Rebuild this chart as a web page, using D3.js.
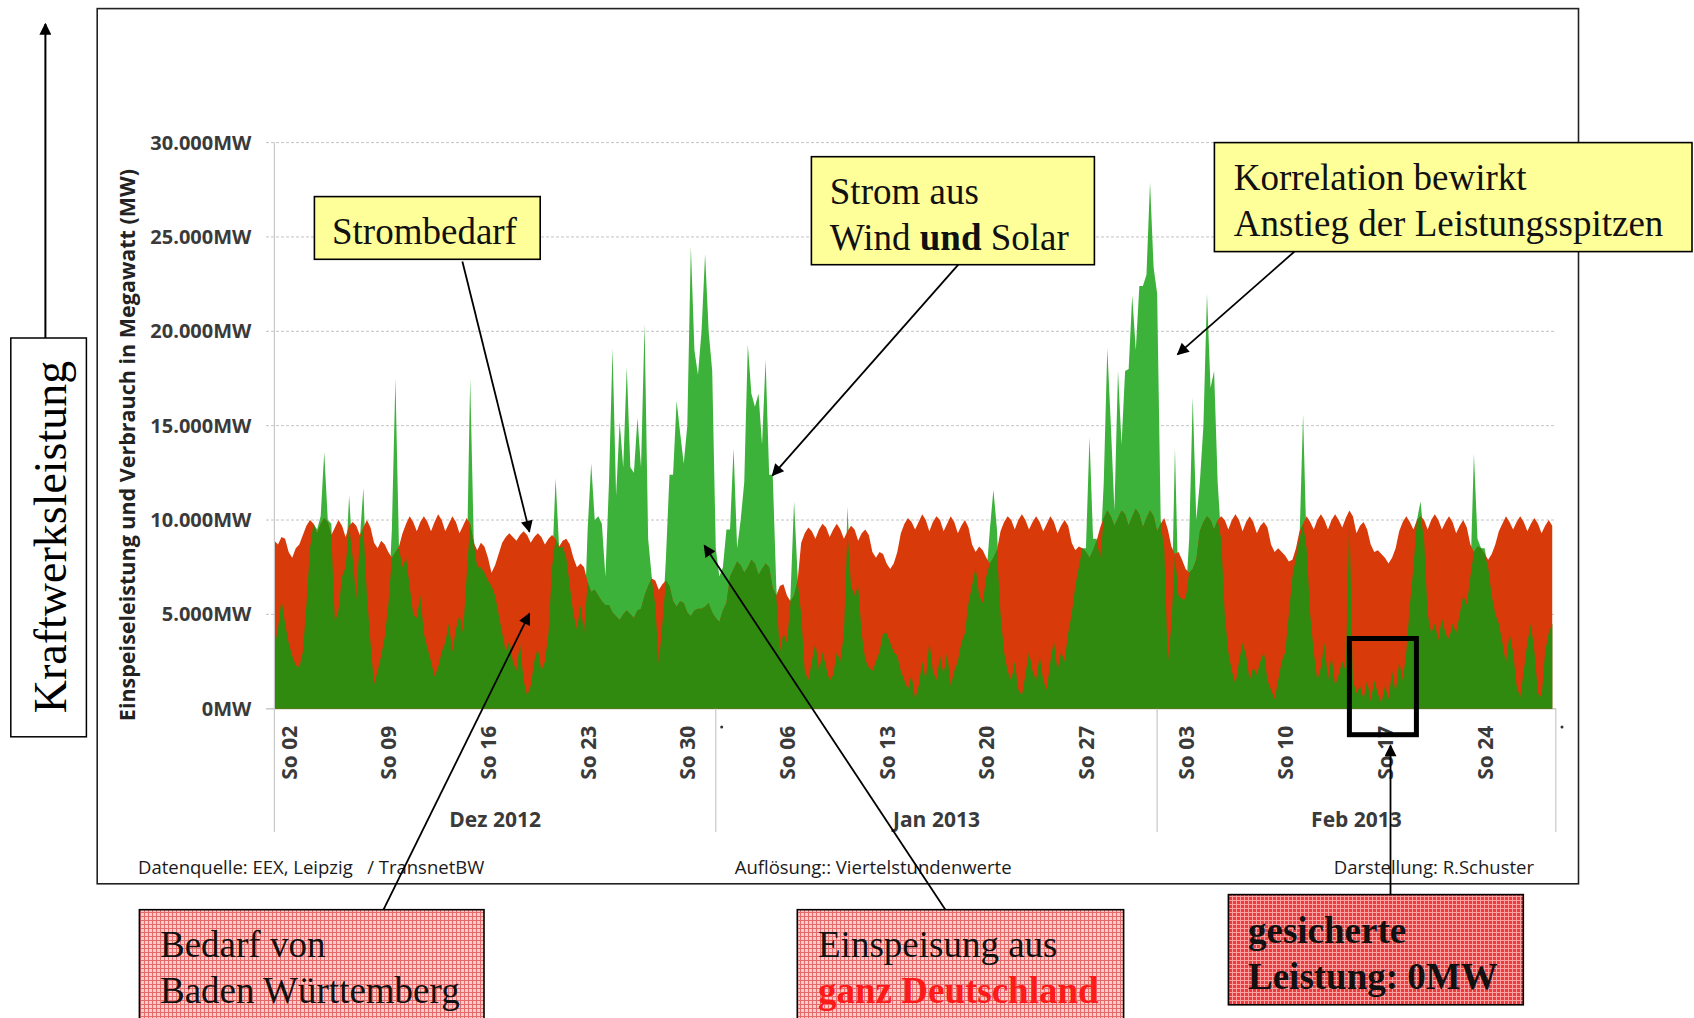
<!DOCTYPE html>
<html>
<head>
<meta charset="utf-8">
<script src="https://cdn.jsdelivr.net/npm/d3@7"></script>
<style>
  body { margin: 0; background: #fff; }
  text { font-family: "Open Sans", "DejaVu Sans", sans-serif; }
  .serif { font-family: "Liberation Serif", "DejaVu Serif", serif; }
</style>
</head>
<body>
<svg id="chart" width="1694" height="1018"></svg>
<script>
// Demand Baden-Wuerttemberg (MW), 6-hourly samples (00, 06, 12, 18 h), one row per day
const demandDec = [
  8900, 8700, 9100, 9000,   8300, 8000, 8500, 8700,   9200, 9700, 10000, 9800,
  9300, 9800, 10100, 9900,  9200, 9600, 10000, 9700,  9100, 9700, 9900, 9700,
  9200, 9600, 10000, 9600,  8800, 8500, 8900, 8700,   8300, 8000, 8300, 8600,
  9300, 9800, 10200, 9900,  9400, 9900, 10200, 9900,  9400, 9900, 10300, 10000,
  9400, 9800, 10200, 9900,  9300, 9700, 10100, 9800,  8800, 8400, 8800, 8600,
  8000, 7200, 7600, 8200,   8800, 9100, 9300, 9100,   8900, 9200, 9400, 9200,
  8800, 9100, 9300, 9100,   8700, 9000, 9200, 9000,   8600, 8900, 9000, 8700,
  8000, 7500, 7700, 7500,   6700, 6200, 6300, 6000,   5700, 5500, 5500, 5100,
  4900, 4700, 5000, 5200,   5000, 4800, 5200, 5300,   6000, 6500, 6900, 6800,
  6300, 6600, 6800, 6500,   5700, 5400, 5700, 5600,   5100, 4900, 5200, 5300,
  5300, 5400, 5600, 5100
];
const demandJan = [
  4800, 4600, 5200, 5600,   7000, 7400, 7800, 7600,   7200, 7500, 7900, 7700,
  7100, 7400, 7700, 7500,   6400, 6000, 6500, 6600,   6000, 5700, 6000, 6800,
  8800, 9300, 9600, 9400,   9000, 9500, 9800, 9600,   9100, 9500, 9800, 9500,
  9000, 9400, 9700, 9500,   8900, 9300, 9500, 9200,   8300, 8000, 8300, 8200,
  7700, 7400, 7700, 8300,   9300, 9800, 10100, 9900,  9500, 9900, 10300, 10000,
  9400, 9900, 10200, 10000, 9400, 9800, 10200, 9900,  9300, 9700, 10000, 9600,
  8700, 8300, 8600, 8400,   8000, 7700, 8000, 8400,   9400, 9900, 10200, 10000,
  9500, 10000, 10300, 10000, 9500, 9900, 10200, 9900, 9400, 9800, 10200, 9900,
  9300, 9700, 10000, 9700,  8800, 8400, 8600, 8500,   8300, 8000, 8400, 8900,
  9600, 10100, 10500, 10200, 9700, 10100, 10500, 10300, 9700, 10200, 10600, 10300,
  9600, 10100, 10500, 10200
];
const demandFeb = [
  9400, 9800, 10100, 9500,  8600, 8200, 8300, 7900,   7400, 7200, 7400, 7900,
  9400, 9900, 10200, 10000, 9500, 10000, 10200, 10000, 9500, 10000, 10300, 10000,
  9400, 9900, 10200, 9900,  9300, 9700, 9900, 9600,   8700, 8300, 8500, 8300,
  8100, 7800, 7900, 8500,   9400, 9800, 10200, 9900,  9500, 10000, 10300, 10000,
  9500, 10000, 10300, 10000, 9600, 10100, 10500, 10200, 9300, 9700, 9900, 9500,
  8700, 8300, 8400, 8200,   8000, 7700, 8000, 8500,   9400, 9900, 10200, 9900,
  9500, 10000, 10200, 10000, 9500, 10000, 10300, 10000, 9500, 9900, 10200, 9900,
  9300, 9700, 10000, 9600,  8700, 8300, 8600, 8500,   8200, 7900, 8200, 8700,
  9400, 9800, 10200, 9900,  9500, 9900, 10200, 9900,  9400, 9800, 10100, 9800,
  9300, 9700, 10000, 9700
];

// Wind + solar feed-in, all of Germany (MW), same 6-hourly grid
const feedInDec = [
  3300, 4200, 5800, 4500,   3500, 2800, 2300, 2200,   3000, 5500, 8500, 9800,
  9500, 10200, 13600, 10000, 9800, 4600, 5200, 7000,  7500, 11300, 8000, 5800,
  9000, 11700, 6000, 3500,  1300, 2000, 2800, 3800,   5500, 9500, 17500, 8500,
  7500, 8000, 6500, 5000,   4800, 6000, 4000, 3200,   2500, 1700, 2200, 3000,
  3500, 4500, 3000, 4200,   5000, 4000, 7000, 17500,  9000, 7500, 7500, 7200,
  6800, 6500, 6000, 5000,   4000, 3000, 3600, 2500,   2000, 3500, 1500, 700,
  1200, 2500, 3200, 2000,   2500, 4000, 7500, 12200,  8500, 8600, 8000, 6500,
  5000, 4200, 5500, 4000,   9500, 13000, 10000, 10200, 9800, 7000, 12000, 19100,
  11300, 15200, 12800, 18100, 12800, 12500, 15400, 12800, 20400, 9000, 7000, 5500,
  2400, 4500, 8000, 12400,  12400, 16300, 14600, 13000, 15000, 24500, 19000, 17700,
  20000, 24100, 20000, 17900
];
const feedInJan = [
  8500, 7000, 7500, 9500,   9500, 13800, 8500, 10000, 12000, 19300, 16700, 16000,
  16700, 14000, 18500, 12400, 12400, 6500, 3000, 4000, 3500, 6000, 11000, 7000,
  5000, 2000, 1500, 2500,   3500, 2000, 3000, 2200,   1500, 1800, 3000, 2500,
  4000, 10700, 6500, 6000,  6500, 4000, 2600, 2200,   2000, 2500, 3000, 4000,
  4000, 3500, 3000, 2800,   2000, 1500, 1000, 1800,   500, 1200, 2500, 1500,
  3600, 2000, 1500, 2800,   1800, 3000, 1200, 2000,   2500, 3500, 4000, 5600,
  6500, 7500, 6000, 5600,   7000, 9500, 11600, 9500,  5000, 3000, 2000, 1500,
  2500, 1000, 700, 1800,    3000, 2000, 1500, 2800,   1500, 1000, 2500, 3600,
  2000, 3000, 2500, 4000,   5000, 6500, 7500, 8500,   8500, 14400, 9000, 9000,
  8000, 12000, 19100, 15000, 10500, 17900, 14000, 17900, 18000, 21900, 19000, 22400,
  22400, 23000, 27900, 23400
];
const feedInFeb = [
  22000, 10000, 8500, 2400, 4500, 13800, 6000, 5800,  5800, 9000, 16500, 10000,
  12000, 15000, 22000, 17000, 17900, 12000, 9000, 5000, 3000, 2000, 1300, 2500,
  3500, 2800, 1500, 2200,   1800, 2500, 3000, 1500,   1000, 500, 1500, 2500,
  3000, 5000, 7000, 8000,   9000, 15600, 8500, 5000,  3000, 1500, 2200, 3500,
  1500, 2800, 1200, 1800,   2500, 2000, 10300, 1500,  800, 1200, 500, 1500,
  400, 1500, 800, 300,      1200, 500, 2000, 800,     2500, 1500, 3000, 5500,
  7500, 10000, 11000, 9000, 5000, 4000, 4500, 3600,   4800, 4000, 3700, 4500,
  4000, 5000, 6000, 5500,   7000, 13500, 9000, 8500,  8500, 7500, 6000, 5000,
  4500, 3500, 2400, 4000,   3000, 1200, 600, 2000,    3500, 4500, 3000, 800,
  600, 3000, 4000, 4500
];

const yTickValues = [0, 5000, 10000, 15000, 20000, 25000, 30000];
const monthLabels = ["Dez 2012", "Jan 2013", "Feb 2013"];
const monthStarts = [Date.UTC(2012, 11, 1), Date.UTC(2013, 0, 1), Date.UTC(2013, 1, 1), Date.UTC(2013, 2, 1)];

const svg = d3.select("#chart");
const x0 = 274.4, x1 = 1555.8, yBase = 708.7, yTop = 142.6, axisBottomY = 832;

const x = d3.scaleUtc()
  .domain([new Date(monthStarts[0]), new Date(monthStarts[3])])
  .range([x0, x1]);
const y = d3.scaleLinear().domain([0, 30000]).range([yBase, yTop]);

const demand = [...demandDec, ...demandJan, ...demandFeb];
const feedIn = [...feedInDec, ...feedInJan, ...feedInFeb];
const series = demand.map((d, i) => ({
  t: new Date(monthStarts[0] + i * 6 * 3600e3),
  demand: d,
  feedIn: feedIn[i]
}));

// --- defs: arrow head + hatched fills
const defs = svg.append("defs");
defs.append("marker")
  .attr("id", "head")
  .attr("markerUnits", "userSpaceOnUse")
  .attr("viewBox", "0 0 10 10")
  .attr("refX", 9).attr("refY", 5)
  .attr("markerWidth", 16).attr("markerHeight", 12)
  .attr("orient", "auto")
  .append("path").attr("d", "M0,0L10,5L0,10z").attr("fill", "#000");

function gridPattern(id, base, line) {
  const p = defs.append("pattern").attr("id", id)
    .attr("width", 4).attr("height", 4).attr("patternUnits", "userSpaceOnUse");
  p.append("rect").attr("width", 4).attr("height", 4).attr("fill", base);
  p.append("path").attr("d", "M0,0.5H4M0.5,0V4").attr("stroke", line).attr("stroke-width", 1);
}
gridPattern("pinkGrid", "#f9cccc", "#e66a6a");
gridPattern("redGrid", "#ee3a3a", "#f7a3a3");

// outer frame
svg.append("rect")
  .attr("x", 97.2).attr("y", 8.6).attr("width", 1481.3).attr("height", 875.2)
  .attr("fill", "#fff").attr("stroke", "#222").attr("stroke-width", 1.6);

// gridlines
const grid = svg.append("g");
grid.selectAll("line")
  .data(yTickValues)
  .join("line")
  .attr("x1", 266).attr("x2", x1)
  .attr("y1", d => y(d)).attr("y2", d => y(d))
  .attr("stroke", d => d === 0 ? "#c8c8c8" : "#c4c4c4")
  .attr("stroke-width", d => d === 0 ? 1.5 : 1)
  .attr("stroke-dasharray", d => d === 0 ? null : "3,2");

// areas: feed-in (light), demand (red), overlap (dark green)
const areaOf = acc => d3.area().x(d => x(d.t)).y0(yBase).y1(d => y(acc(d)));
svg.append("path").datum(series).attr("fill", "#3db23b").attr("d", areaOf(d => d.feedIn));
svg.append("path").datum(series).attr("fill", "#d83a0a").attr("d", areaOf(d => d.demand));
svg.append("path").datum(series).attr("fill", "#2f8a0f")
  .attr("d", areaOf(d => Math.min(d.demand, d.feedIn)));

// axis lines
svg.append("line").attr("x1", x0).attr("x2", x0).attr("y1", yTop).attr("y2", axisBottomY)
  .attr("stroke", "#c8c8c8").attr("stroke-width", 1.2);
svg.append("g").selectAll("line")
  .data(monthStarts.slice(1))
  .join("line")
  .attr("x1", d => x(new Date(d))).attr("x2", d => x(new Date(d)))
  .attr("y1", yBase).attr("y2", axisBottomY)
  .attr("stroke", "#c8c8c8").attr("stroke-width", 1.2);

// y axis labels
const deFormat = d3.formatLocale({ decimal: ",", thousands: ".", grouping: [3], currency: ["", " €"] }).format(",");
const yAxis = svg.append("g")
  .attr("transform", `translate(${x0},0)`)
  .call(d3.axisLeft(y).tickValues(yTickValues).tickSize(0).tickPadding(23)
    .tickFormat(v => deFormat(v) + "MW"));
yAxis.select(".domain").remove();
yAxis.selectAll("text")
  .attr("font-family", "Open Sans").attr("font-size", 20).attr("font-weight", 700)
  .attr("fill", "#3a3a3a");

// x axis: Sundays
const xAxis = svg.append("g")
  .attr("transform", `translate(0,${yBase})`)
  .call(d3.axisBottom(x)
    .tickValues(d3.utcSunday.range(new Date(monthStarts[0]), new Date(monthStarts[3])))
    .tickSize(0)
    .tickFormat(d3.utcFormat("So %d")));
xAxis.select(".domain").remove();
xAxis.selectAll("text")
  .attr("font-family", "Open Sans").attr("font-size", 21).attr("font-weight", 700)
  .attr("fill", "#3a3a3a")
  .attr("transform", "rotate(-90)")
  .attr("text-anchor", "end")
  .attr("x", -17).attr("y", 0).attr("dy", "0.36em");

// month labels
svg.append("g").selectAll("text")
  .data(monthLabels)
  .join("text")
  .attr("x", (d, i) => (x(new Date(monthStarts[i])) + x(new Date(monthStarts[i + 1]))) / 2)
  .attr("y", 827)
  .attr("text-anchor", "middle")
  .attr("font-size", 21).attr("font-weight", 700).attr("fill", "#3a3a3a")
  .text(d => d);

// small stray dots from the original axis
svg.append("g").selectAll("circle")
  .data([[721.7, 727], [1562, 727]])
  .join("circle")
  .attr("cx", d => d[0]).attr("cy", d => d[1]).attr("r", 1.5).attr("fill", "#333");

// y axis title
svg.append("text")
  .attr("transform", "translate(127.5,445) rotate(-90)")
  .attr("text-anchor", "middle").attr("dy", "0.35em")
  .attr("font-size", 21.5).attr("font-weight", 700).attr("fill", "#222")
  .text("Einspeiseleistung und Verbrauch in Megawatt (MW)");

// footer
const footer = [
  { x: 138, anchor: "start", t: "Datenquelle: EEX, Leipzig   / TransnetBW" },
  { x: 734.7, anchor: "start", t: "Auflösung:: Viertelstundenwerte" },
  { x: 1534, anchor: "end", t: "Darstellung: R.Schuster" }
];
svg.append("g").selectAll("text")
  .data(footer)
  .join("text")
  .attr("x", d => d.x).attr("y", 874)
  .attr("text-anchor", d => d.anchor)
  .attr("font-size", 18.5).attr("fill", "#1a1a1a")
  .style("white-space", "pre")
  .text(d => d.t);

// left "Kraftwerksleistung" box with arrow
svg.append("line")
  .attr("x1", 45.4).attr("x2", 45.4).attr("y1", 338).attr("y2", 24)
  .attr("stroke", "#000").attr("stroke-width", 2).attr("marker-end", "url(#head)");
svg.append("rect")
  .attr("x", 10.8).attr("y", 338).attr("width", 75.6).attr("height", 398.8)
  .attr("fill", "#fff").attr("stroke", "#000").attr("stroke-width", 1.5);
svg.append("text")
  .attr("class", "serif")
  .attr("transform", "translate(50.8,537) rotate(-90)")
  .attr("text-anchor", "middle").attr("dy", "0.33em")
  .attr("font-size", 46).attr("fill", "#000")
  .text("Kraftwerksleistung");

// annotation arrows
const arrows = [
  [462.4, 261.5, 529.4, 531.6],
  [383.5, 909.7, 529.4, 613.7],
  [958.3, 264.7, 772.5, 475.4],
  [945.4, 909.7, 704.4, 545.6],
  [1294.3, 251.7, 1177.6, 354.4],
  [1390.5, 894.6, 1390.5, 745.5]
];
svg.append("g").selectAll("line")
  .data(arrows)
  .join("line")
  .attr("x1", d => d[0]).attr("y1", d => d[1])
  .attr("x2", d => d[2]).attr("y2", d => d[3])
  .attr("stroke", "#000").attr("stroke-width", 1.8)
  .attr("marker-end", "url(#head)");

// black frame around the zero-power section
svg.append("rect")
  .attr("x", 1349.4).attr("y", 638.5).attr("width", 67).attr("height", 96.2)
  .attr("fill", "none").attr("stroke", "#000").attr("stroke-width", 5);

// annotation boxes
function noteBox(bx, by, bw, bh, fill, tx, lines) {
  const g = svg.append("g");
  g.append("rect").attr("x", bx).attr("y", by).attr("width", bw).attr("height", bh)
    .attr("fill", fill).attr("stroke", "#000").attr("stroke-width", 1.6);
  lines.forEach(line => {
    const t = g.append("text").attr("class", "serif")
      .attr("x", tx).attr("y", line.y).attr("font-size", 37).attr("fill", "#111");
    line.parts.forEach(p => {
      t.append("tspan").text(p.s)
        .attr("font-weight", p.b ? 700 : 400)
        .attr("fill", p.c || "#111");
    });
  });
}
noteBox(314.4, 196.6, 225.8, 62.7, "#ffff99", 332,
  [{ y: 244, parts: [{ s: "Strombedarf" }] }]);
noteBox(811.4, 156.7, 283, 108, "#ffff99", 829.8, [
  { y: 204, parts: [{ s: "Strom aus" }] },
  { y: 249.6, parts: [{ s: "Wind " }, { s: "und", b: true }, { s: " Solar" }] }
]);
noteBox(1214.4, 142.6, 477.6, 109, "#ffff99", 1233.8, [
  { y: 190, parts: [{ s: "Korrelation bewirkt" }] },
  { y: 235.5, parts: [{ s: "Anstieg der Leistungsspitzen" }] }
]);
noteBox(139.4, 909.7, 344.6, 125, "url(#pinkGrid)", 160, [
  { y: 957, parts: [{ s: "Bedarf von" }] },
  { y: 1002.6, parts: [{ s: "Baden Württemberg" }] }
]);
noteBox(797.3, 909.7, 326.3, 125, "url(#pinkGrid)", 818, [
  { y: 957, parts: [{ s: "Einspeisung aus" }] },
  { y: 1002.6, parts: [{ s: "ganz Deutschland", b: true, c: "#ff1a1a" }] }
]);
noteBox(1228.4, 894.6, 294.9, 110.2, "url(#redGrid)", 1248, [
  { y: 943, parts: [{ s: "gesicherte", b: true }] },
  { y: 988.6, parts: [{ s: "Leistung: 0MW", b: true }] }
]);
</script>
</body>
</html>
